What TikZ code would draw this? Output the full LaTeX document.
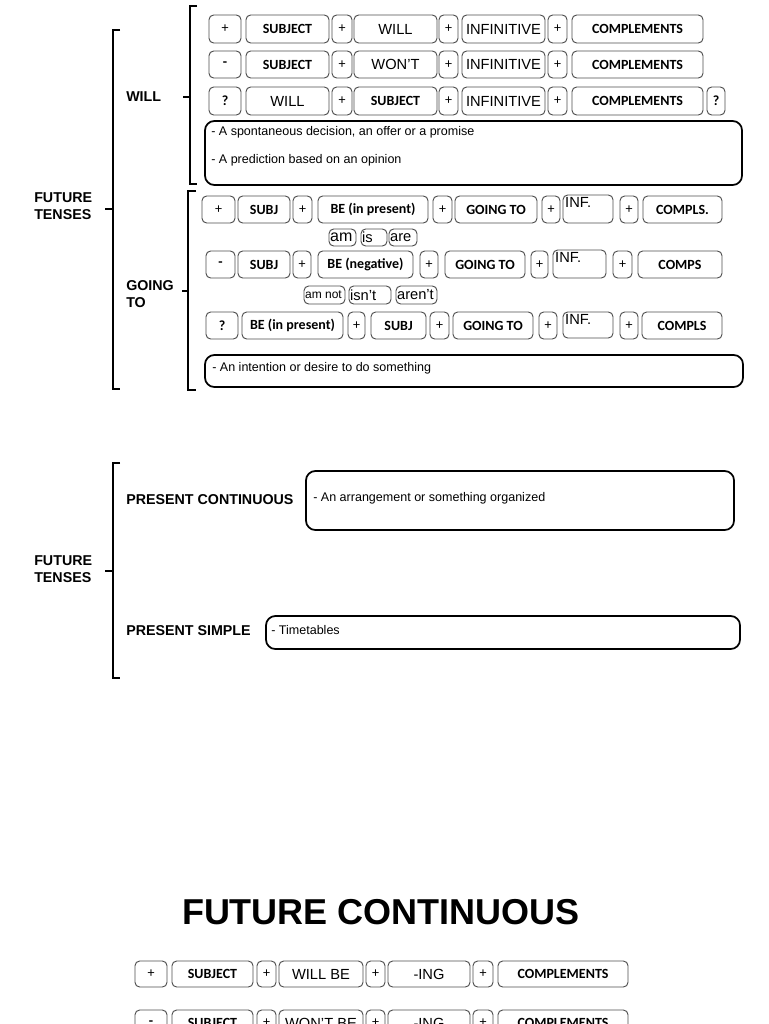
\documentclass[tikz,border=0pt]{standalone}
\usepackage{fontspec}
\setmainfont{Liberation Sans}
\newfontfamily\carl{Carlito}
\newcommand{\tokfont}{\carl\bfseries\fontsize{10.5}{12}\selectfont}
\newcommand{\opfont}{\carl\fontsize{10.5}{12}\selectfont}
\newcommand{\wrdfont}{\fontsize{11}{13}\selectfont}
\newcommand{\formfont}{\fontsize{11}{13}\selectfont}
\newcommand{\bigform}{\fontsize{12}{14}\selectfont}
\newcommand{\smallform}{\fontsize{9}{11}\selectfont}
\newcommand{\notefont}{\fontsize{9.4}{11}\selectfont}
\newcommand{\labfont}{\bfseries\fontsize{10.7}{12.8}\selectfont}
\newcommand{\titlefont}{\bfseries\fontsize{27}{32}\selectfont}

\tikzset{
  cellat/.style n args={4}{at={({(#1+#3)/2},{(#2+#4)/2})}, minimum width={(#3-#1)*0.75pt}, minimum height={(#4-#2)*0.75pt}},
  tok/.style={draw=black!70, line width=0.7pt, rounded corners=3.5pt, inner sep=0pt, font=\tokfont},
  op/.style={tok, font=\opfont},
  wrd/.style={tok, font=\wrdfont},
  lft/.style 2 args={tok, label={[font=#1, anchor=west, inner sep=1pt]west:#2}},
  infbox/.style={tok, label={[font=\wrdfont, anchor=north west, inner sep=1.8pt]north west:#1}},
  note/.style={draw, line width=1.3pt, rounded corners=7pt, inner sep=0pt},
  notetxt/.style={font=\notefont, anchor=west, inner sep=0pt},
  lbl/.style={font=\labfont, anchor=west, inner sep=0pt, align=left},
  brk/.style={line width=1.1pt}
}

\begin{document}
\begin{tikzpicture}[x=0.75pt,y=0.75pt,yscale=-1,xscale=1]
\useasboundingbox (0,0) rectangle (768,1024);
\clip (0,0) rectangle (768,1024);

% Brackets, first part
\draw[brk] (120,30) -- (113,30) -- (113,389) -- (120,389);
\draw[brk] (113,209) -- (105,209);
\draw[brk] (197,6) -- (190,6) -- (190,184) -- (197,184);
\draw[brk] (190,97) -- (183,97);
\draw[brk] (196,191) -- (188,191) -- (188,390) -- (196,390);
\draw[brk] (188,291) -- (182,291);

% Labels
\node[lbl] (ft1) at (34,206) {FUTURE\\TENSES};
\node[lbl] (will) at (126,97) {WILL};
\node[lbl] (going) at (126,294) {GOING\\TO};

% WILL: affirmative
\node[op, cellat={209}{15}{241}{43}] (wa1) {+};
\node[tok, cellat={246}{15}{329}{43}] (wa2) {SUBJECT};
\node[op, cellat={332}{15}{352}{43}] (wa3) {+};
\node[wrd, cellat={354}{15}{437}{43}] (wa4) {WILL};
\node[op, cellat={439}{15}{458}{43}] (wa5) {+};
\node[wrd, cellat={462}{15}{545}{43}] (wa6) {INFINITIVE};
\node[op, cellat={548}{15}{567}{43}] (wa7) {+};
\node[tok, cellat={572}{15}{703}{43}] (wa8) {COMPLEMENTS};
% WILL: negative
\node[tok, cellat={209}{51}{241}{78}] (wb1) {-};
\node[tok, cellat={246}{51}{329}{78}] (wb2) {SUBJECT};
\node[op, cellat={332}{51}{352}{78}] (wb3) {+};
\node[wrd, cellat={354}{51}{437}{78}] (wb4) {WON'T};
\node[op, cellat={439}{51}{458}{78}] (wb5) {+};
\node[wrd, cellat={462}{51}{545}{78}] (wb6) {INFINITIVE};
\node[op, cellat={548}{51}{567}{78}] (wb7) {+};
\node[tok, cellat={572}{51}{703}{78}] (wb8) {COMPLEMENTS};
% WILL: question
\node[tok, cellat={209}{87}{241}{115}] (wc1) {?};
\node[wrd, cellat={246}{87}{329}{115}] (wc2) {WILL};
\node[op, cellat={332}{87}{352}{115}] (wc3) {+};
\node[tok, cellat={354}{87}{437}{115}] (wc4) {SUBJECT};
\node[op, cellat={439}{87}{458}{115}] (wc5) {+};
\node[wrd, cellat={462}{87}{545}{115}] (wc6) {INFINITIVE};
\node[op, cellat={548}{87}{567}{115}] (wc7) {+};
\node[tok, cellat={572}{87}{703}{115}] (wc8) {COMPLEMENTS};
\node[tok, cellat={707}{87}{725}{115}] (wc9) {?};
% WILL: uses
\node[note, cellat={205}{121}{742}{185}] (wnote) {};
\node[notetxt] (wn1) at (211,132) {- A spontaneous decision, an offer or a promise};
\node[notetxt] (wn2) at (211,160) {- A prediction based on an opinion};

% GOING TO: affirmative
\node[op, cellat={202}{196}{235}{223}] (ga1) {+};
\node[tok, cellat={238}{196}{290}{223}] (ga2) {SUBJ};
\node[op, cellat={293}{196}{312}{223}] (ga3) {+};
\node[tok, cellat={318}{196}{428}{223}] (ga4) {BE (in present)};
\node[op, cellat={433}{196}{452}{223}] (ga5) {+};
\node[tok, cellat={455}{196}{537}{223}] (ga6) {GOING TO};
\node[op, cellat={542}{196}{560}{223}] (ga7) {+};
\node[infbox=INF., cellat={563}{195}{613}{223}] (ga8) {};
\node[op, cellat={620}{196}{638}{223}] (ga9) {+};
\node[tok, cellat={643}{196}{722}{223}] (ga10) {COMPLS.};
\node[lft={\bigform}{am}, cellat={329}{229}{356}{246}] (gam) {};
\node[lft={\formfont}{is}, cellat={361}{229}{387}{246}] (gis) {};
\node[lft={\formfont}{are}, cellat={389}{229}{417}{246}] (gare) {};
% GOING TO: negative
\node[tok, cellat={206}{251}{235}{278}] (gb1) {-};
\node[tok, cellat={238}{251}{290}{278}] (gb2) {SUBJ};
\node[op, cellat={293}{251}{311}{278}] (gb3) {+};
\node[tok, cellat={318}{251}{413}{278}] (gb4) {BE (negative)};
\node[op, cellat={420}{251}{438}{278}] (gb5) {+};
\node[tok, cellat={445}{251}{525}{278}] (gb6) {GOING TO};
\node[op, cellat={531}{251}{548}{278}] (gb7) {+};
\node[infbox=INF., cellat={553}{250}{606}{278}] (gb8) {};
\node[op, cellat={613}{251}{632}{278}] (gb9) {+};
\node[tok, cellat={638}{251}{722}{278}] (gb10) {COMPS};
\node[lft={\smallform}{am not}, cellat={304}{286}{345}{304}] (gamnot) {};
\node[lft={\formfont}{isn't}, cellat={349}{286}{391}{304}] (gisnt) {};
\node[lft={\formfont}{aren't}, cellat={396}{286}{437}{304}] (garent) {};
% GOING TO: question
\node[tok, cellat={206}{312}{238}{339}] (gc1) {?};
\node[tok, cellat={242}{312}{343}{339}] (gc2) {BE (in present)};
\node[op, cellat={348}{312}{365}{339}] (gc3) {+};
\node[tok, cellat={371}{312}{426}{339}] (gc4) {SUBJ};
\node[op, cellat={430}{312}{449}{339}] (gc5) {+};
\node[tok, cellat={453}{312}{533}{339}] (gc6) {GOING TO};
\node[op, cellat={539}{312}{557}{339}] (gc7) {+};
\node[infbox=INF., cellat={563}{312}{613}{338}] (gc8) {};
\node[op, cellat={620}{312}{638}{339}] (gc9) {+};
\node[tok, cellat={642}{312}{722}{339}] (gc10) {COMPLS};
% GOING TO: uses
\node[note, cellat={205}{355}{743}{387}] (gnote) {};
\node[notetxt] (gn1) at (212,368) {- An intention or desire to do something};

% Second part
\draw[brk] (120,463) -- (113,463) -- (113,678) -- (120,678);
\draw[brk] (113,571) -- (105,571);
\node[lbl] (ft2) at (34,569) {FUTURE\\TENSES};
\node[lbl] (pcont) at (126,500) {PRESENT CONTINUOUS};
\node[note, cellat={306}{471}{734}{530}] (pcnote) {};
\node[notetxt] (pcn1) at (313,498) {- An arrangement or something organized};
\node[lbl] (psimp) at (126,631) {PRESENT SIMPLE};
\node[note, cellat={266}{616}{740}{649}] (psnote) {};
\node[notetxt] (psn1) at (271,630) {- Timetables};

% FUTURE CONTINUOUS
\node[font=\titlefont, inner sep=0pt] (title) at (381,912) {FUTURE CONTINUOUS};
\node[op, cellat={135}{961}{167}{987}] (fa1) {+};
\node[tok, cellat={172}{961}{253}{987}] (fa2) {SUBJECT};
\node[op, cellat={257}{961}{276}{987}] (fa3) {+};
\node[wrd, cellat={279}{961}{363}{987}] (fa4) {WILL BE};
\node[op, cellat={366}{961}{385}{987}] (fa5) {+};
\node[wrd, cellat={388}{961}{470}{987}] (fa6) {-ING};
\node[op, cellat={473}{961}{493}{987}] (fa7) {+};
\node[tok, cellat={498}{961}{628}{987}] (fa8) {COMPLEMENTS};
\node[tok, cellat={135}{1010}{167}{1036}] (fb1) {-};
\node[tok, cellat={172}{1010}{253}{1036}] (fb2) {SUBJECT};
\node[op, cellat={257}{1010}{276}{1036}] (fb3) {+};
\node[wrd, cellat={279}{1010}{363}{1036}] (fb4) {WON'T BE};
\node[op, cellat={366}{1010}{385}{1036}] (fb5) {+};
\node[wrd, cellat={388}{1010}{470}{1036}] (fb6) {-ING};
\node[op, cellat={473}{1010}{493}{1036}] (fb7) {+};
\node[tok, cellat={498}{1010}{628}{1036}] (fb8) {COMPLEMENTS};
\end{tikzpicture}
\end{document}
